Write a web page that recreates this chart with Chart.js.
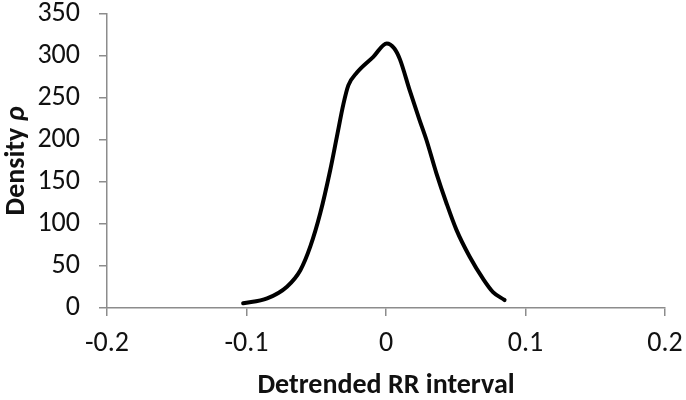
<!DOCTYPE html>
<html lang="en">
<head>
  <meta charset="UTF-8">
  <title>Density of detrended RR interval</title>
  <script src="https://cdn.jsdelivr.net/npm/chart.js"></script>
  <style>
    html, body { margin: 0; padding: 0; background: #fff; }
    #wrap { width: 686px; height: 400px; }
  </style>
</head>
<body>
  <div id="wrap"><canvas id="densityChart"></canvas></div>

  <script>
    // values
    const rrValues = [-0.1024, -0.0852, -0.0710, -0.0614, -0.0543, -0.0471, -0.0400, -0.0352,
      -0.0305, -0.0270, -0.0210, -0.0091, 0.0005, 0.0060, 0.0100, 0.0170, 0.0240, 0.0290, 0.0362,
      0.0433, 0.0505, 0.0600, 0.0695, 0.0767, 0.0850];
    const densityValues = [5.6, 11.5, 25.4, 45, 73, 113, 164, 204,
      243, 265, 280, 299, 315, 309, 296, 259, 224, 200, 160,
      125, 93, 61, 35, 19, 9.5];
    const xTicks = [-0.2, -0.1, 0, 0.1, 0.2];
    const yTicks = [0, 50, 100, 150, 200, 250, 300, 350];

    const axisGray = '#8c8c8c';
    const fontFamily = 'Carlito, Lato, "Open Sans", sans-serif';
    const fontSize = 28;

    // y title with an italic rho, drawn by hand
    const yTitlePlugin = {
      id: 'yTitle',
      afterDraw(chart) {
        const ctx = chart.ctx;
        const a = chart.chartArea;
        const part1 = 'Density ';
        const part2 = 'ρ';
        ctx.save();
        ctx.fillStyle = '#111';
        ctx.textBaseline = 'middle';
        ctx.font = 'bold ' + fontSize + 'px ' + fontFamily;
        const w1 = ctx.measureText(part1).width;
        ctx.font = 'italic bold ' + fontSize + 'px ' + fontFamily;
        const w2 = ctx.measureText(part2).width;
        ctx.translate(17, (a.top + a.bottom) / 2);
        ctx.rotate(-Math.PI / 2);
        const start = -(w1 + w2) / 2;
        ctx.textAlign = 'left';
        ctx.font = 'bold ' + fontSize + 'px ' + fontFamily;
        ctx.fillText(part1, start, 0);
        ctx.font = 'italic bold ' + fontSize + 'px ' + fontFamily;
        ctx.fillText(part2, start + w1, 0);
        ctx.restore();
      }
    };

    const ctx = document.getElementById('densityChart').getContext('2d');
    new Chart(ctx, {
      type: 'line',
      data: {
        datasets: [{
          data: rrValues.map((x, i) => ({ x: x, y: densityValues[i] })),
          borderColor: '#000',
          borderWidth: 4,
          pointRadius: 0,
          fill: false,
          cubicInterpolationMode: 'monotone',
          borderCapStyle: 'round',
          borderJoinStyle: 'round'
        }]
      },
      options: {
        responsive: true,
        maintainAspectRatio: false,
        animation: false,
        layout: { padding: { top: 14, right: 21, left: 0, bottom: 0 } },
        plugins: {
          legend: { display: false },
          tooltip: { enabled: false }
        },
        scales: {
          x: {
            type: 'linear',
            min: xTicks[0],
            max: xTicks[xTicks.length - 1],
            afterBuildTicks: (axis) => { axis.ticks = xTicks.map(v => ({ value: v })); },
            afterFit: (axis) => {
              axis.height = 92;
              axis.paddingLeft = 0;
              axis.paddingRight = 0;
            },
            grid: { drawOnChartArea: false, drawTicks: true, tickLength: 8, color: axisGray, lineWidth: 1.5 },
            border: { color: axisGray, width: 1.5 },
            ticks: {
              color: '#111',
              padding: 11,
              maxRotation: 0,
              font: { family: fontFamily, size: fontSize },
              callback: (v) => String(Number(v.toFixed(1)))
            },
            title: {
              display: true,
              text: 'Detrended RR interval',
              color: '#111',
              padding: { top: 0, bottom: 0 },
              font: { family: fontFamily, size: fontSize, weight: 'bold', lineHeight: 1 }
            }
          },
          y: {
            min: yTicks[0],
            max: yTicks[yTicks.length - 1],
            afterBuildTicks: (axis) => { axis.ticks = yTicks.map(v => ({ value: v })); },
            afterFit: (axis) => {
              axis.width = 107;
              axis.paddingTop = 0;
              axis.paddingBottom = 0;
            },
            grid: { drawOnChartArea: false, drawTicks: true, tickLength: 8, color: axisGray, lineWidth: 1.5 },
            border: { color: axisGray, width: 1.5 },
            ticks: {
              color: '#111',
              padding: 19,
              font: { family: fontFamily, size: fontSize }
            }
          }
        }
      },
      plugins: [yTitlePlugin]
    });
  </script>
</body>
</html>
